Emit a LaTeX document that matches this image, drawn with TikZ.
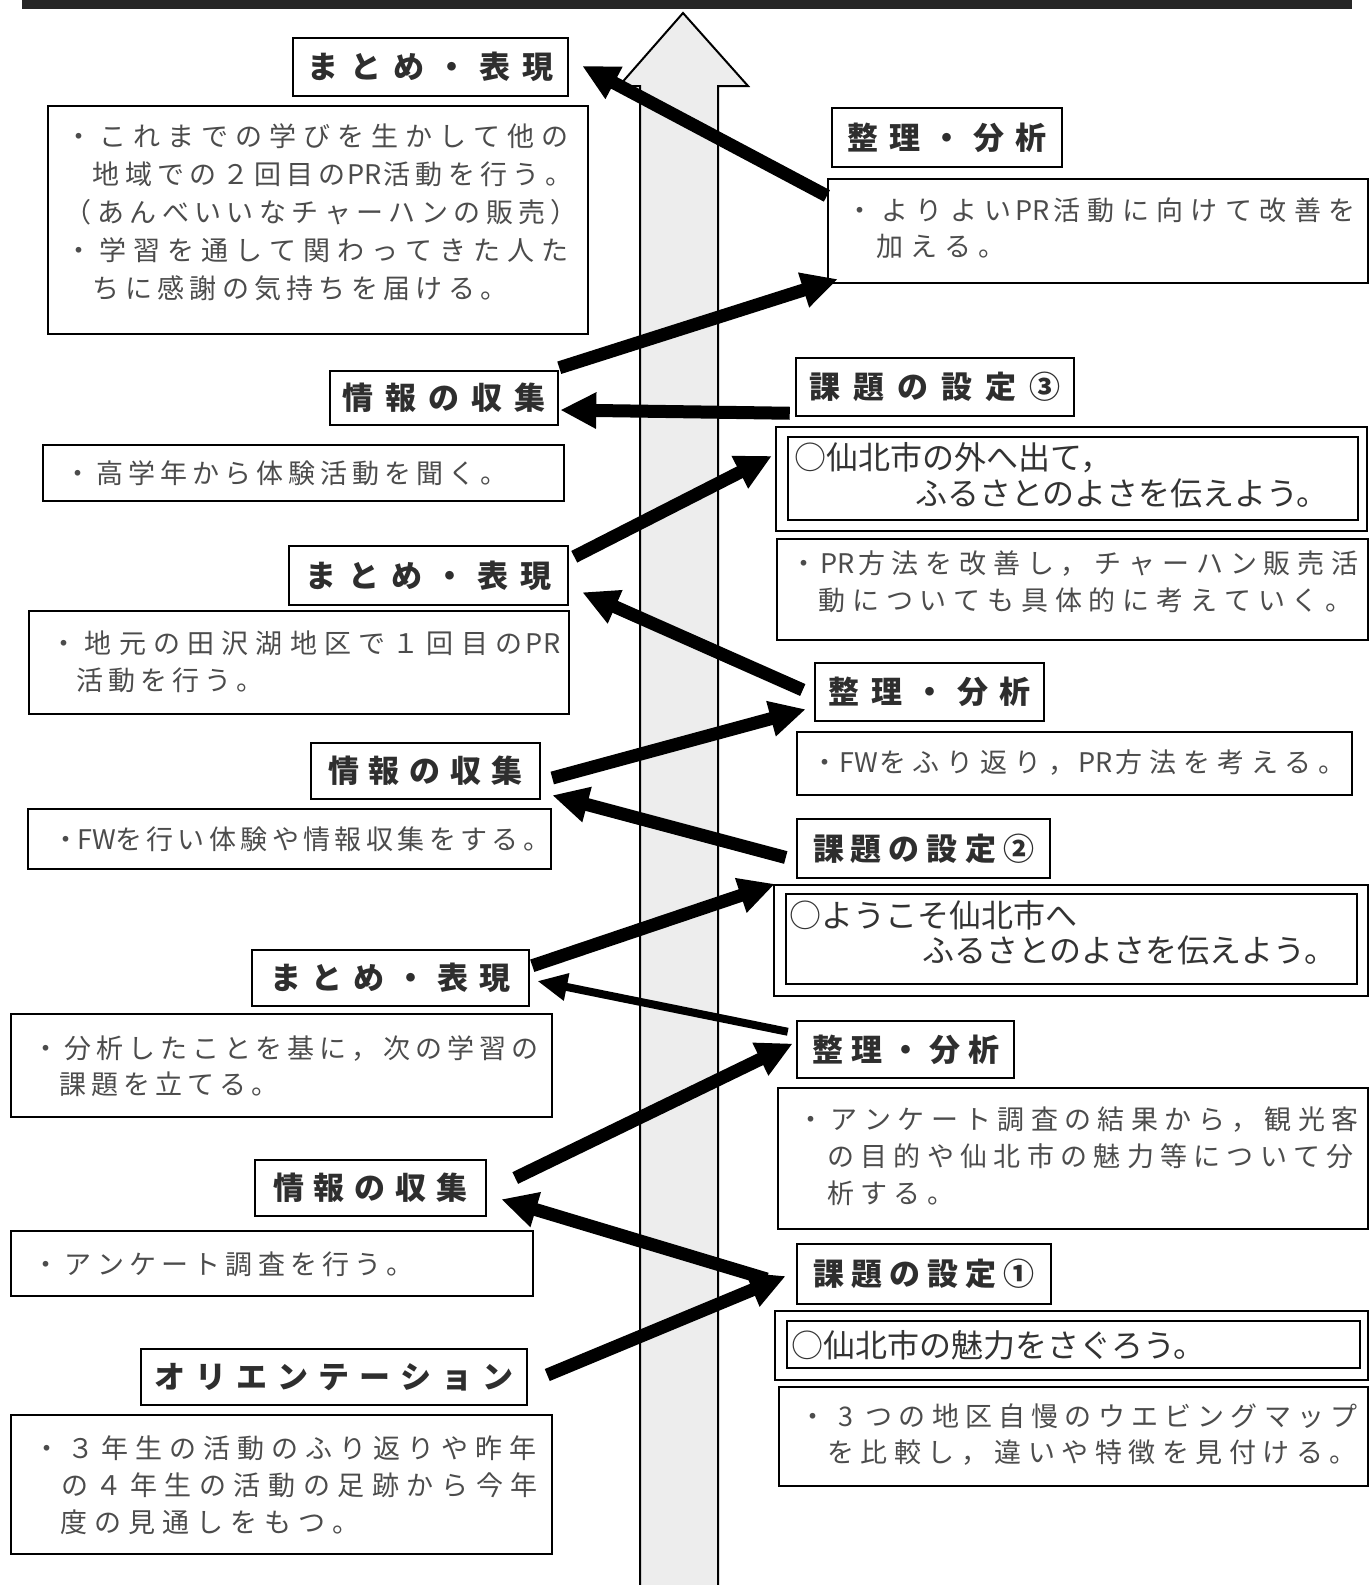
\documentclass[tikz,border=0pt]{standalone}
\usepackage{fontspec}
\usetikzlibrary{arrows.meta}
\newfontfamily\jp{Noto Sans CJK JP}
\ExplSyntaxOn
\NewDocumentCommand\jgrid{mm}{\tl_map_inline:nn{#2}{\makebox[#1][c]{##1}}}
\ExplSyntaxOff
\tikzset{
  hd/.style={draw, line width=2.5pt, fill=white, inner sep=0pt,
    font=\jp\bfseries\fontsize{31}{36}\selectfont, text=black!82},
  tb/.style={draw, line width=2.2pt, fill=white, inner sep=0pt},
  tx/.style={anchor=west, inner sep=0pt, align=left,
    font=\jp\fontsize{27}{#1}\selectfont, text=black!70},
  goaltext/.style={anchor=west, inner sep=0pt, align=left,
    font=\jp\fontsize{32}{#1}\selectfont, text=black!80},
  flow/.style={line width=13pt, -{Triangle[length=36pt,width=34pt]}, black},
  thinflow/.style={line width=8pt, -{Triangle[length=30pt,width=26pt]}, black},
}
\begin{document}
\begin{tikzpicture}[x=1pt,y=-1pt]
\useasboundingbox (0,0) rectangle (1370,1585);
% top bar
\fill[black!85] (22,0) rectangle (1352,9);
% big upward arrow
\draw[line width=2pt, fill=black!7] (640,1590) -- (640,86) -- (619,86) -- (683,13) -- (748,86) -- (718,86) -- (718,1590);

% ---------- left column ----------
\node[hd, minimum width=275, minimum height=58] (m3) at (430.5,67) {\jgrid{43pt}{まとめ・表現}};
\node[tb, minimum width=540, minimum height=228] (m3t) at (318,220) {};
\node[tx=38] (m3x) at (62,212) {\jgrid{34pt}{・これまでの学びを生かして他の}\\
  \hspace*{28pt}\jgrid{32.3pt}{地域での２回目の{PR}活動を行う。}\\
  \jgrid{32.4pt}{（あんべいいなチャーハンの販売）}\\
  \jgrid{34pt}{・学習を通して関わってきた人た}\\
  \hspace*{28pt}\jgrid{32.3pt}{ちに感謝の気持ちを届ける。}};

\node[hd, minimum width=228, minimum height=54] (j3) at (444,398) {\jgrid{43pt}{情報の収集}};
\node[tb, minimum width=521, minimum height=56] (j3t) at (303.5,473) {};
\node[tx=37] (j3x) at (62,473) {\jgrid{32pt}{・高学年から体験活動を聞く。}};

\node[hd, minimum width=279, minimum height=59] (m2) at (428.5,575.5) {\jgrid{43pt}{まとめ・表現}};
\node[tb, minimum width=540, minimum height=103] (m2t) at (299,662.5) {};
\node[tx=37] (m2x) at (47,661.5) {\jgrid{34.2pt}{・地元の田沢湖地区で１回目の{PR}}\\
  \hspace*{27pt}\jgrid{32pt}{活動を行う。}};

\node[hd, minimum width=229, minimum height=56] (j2) at (425.5,771) {\jgrid{41pt}{情報の収集}};
\node[tb, minimum width=523, minimum height=60] (j2t) at (289.5,839) {};
\node[tx=37] (j2x) at (50,839) {\jgrid{31.4pt}{・{FW}を行い体験や情報収集をする。}};

\node[hd, minimum width=277, minimum height=56] (m1) at (390.5,978) {\jgrid{42pt}{まとめ・表現}};
\node[tb, minimum width=541, minimum height=103] (m1t) at (281.5,1065.5) {};
\node[tx=36] (m1x) at (30,1066) {\jgrid{31.9pt}{・分析したことを基に，次の学習の}\\
  \hspace*{27pt}\jgrid{32pt}{課題を立てる。}};

\node[hd, minimum width=231, minimum height=56] (j1) at (370.5,1188) {\jgrid{41pt}{情報の収集}};
\node[tb, minimum width=522, minimum height=65] (j1t) at (272,1263.5) {};
\node[tx=37] (j1x) at (30,1264) {\jgrid{32.2pt}{・アンケート調査を行う。}};

\node[hd, minimum width=386, minimum height=56] (ori) at (334,1377) {\jgrid{41pt}{オリエンテーション}};
\node[tb, minimum width=541, minimum height=139] (orit) at (281.5,1484.5) {};
\node[tx=37] (orix) at (30,1485) {\jgrid{34pt}{・３年生の活動のふり返りや昨年}\\
  \hspace*{27pt}\jgrid{34.6pt}{の４年生の活動の足跡から今年}\\
  \hspace*{27pt}\jgrid{34pt}{度の見通しをもつ。}};

% ---------- right column ----------
\node[hd, minimum width=230, minimum height=59] (s3) at (947,137.5) {\jgrid{42pt}{整理・分析}};
\node[tb, minimum width=540, minimum height=104] (s3t) at (1098,231) {};
\node[tx=36] (s3x) at (843,228) {\jgrid{34.4pt}{・よりよい{PR}活動に向けて改善を}\\
  \hspace*{30pt}\jgrid{34pt}{加える。}};

\node[hd, minimum width=278, minimum height=58] (k3) at (935,387) {\jgrid{44pt}{課題の設定③}};
\node[tb, minimum width=591, minimum height=104] (k3g) at (1071.5,479) {};
\node[tb, line width=2.5pt, minimum width=570, minimum height=83] (k3gi) at (1073,478.5) {};
\node[goaltext=36] (k3x) at (794,475) {○仙北市の外へ出て，\\ \hspace*{121pt}ふるさとのよさを伝えよう。};
\node[tb, minimum width=591, minimum height=101] (k3t) at (1072.5,589.5) {};
\node[tx=37] (k3tx) at (787,581.5) {\jgrid{33.8pt}{・{PR}方法を改善し，チャーハン販売活}\\
  \hspace*{28pt}\jgrid{33.8pt}{動についても具体的に考えていく。}};

\node[hd, minimum width=229, minimum height=58] (s2) at (929.5,692) {\jgrid{43pt}{整理・分析}};
\node[tb, minimum width=555, minimum height=63] (s2t) at (1074.5,763.5) {};
\node[tx=37] (s2x) at (808,763) {\jgrid{33.8pt}{・{FW}をふり返り，{PR}方法を考える。}};

\node[hd, minimum width=253, minimum height=59] (k2) at (923.5,848.5) {\jgrid{38pt}{課題の設定②}};
\node[tb, minimum width=594, minimum height=111] (k2g) at (1071,940.5) {};
\node[tb, line width=2.5pt, minimum width=571, minimum height=90] (k2gi) at (1071.5,939) {};
\node[goaltext=35] (k2x) at (789,932.5) {○ようこそ仙北市へ\\ \hspace*{133pt}ふるさとのよさを伝えよう。};

\node[hd, minimum width=217, minimum height=57] (s1) at (905.5,1049.5) {\jgrid{39pt}{整理・分析}};
\node[tb, minimum width=590, minimum height=141] (s1t) at (1073,1158.5) {};
\node[tx=37] (s1x) at (794,1156) {\jgrid{33.4pt}{・アンケート調査の結果から，観光客}\\
  \hspace*{30pt}\jgrid{33.3pt}{の目的や仙北市の魅力等について分}\\
  \hspace*{30pt}\jgrid{33.3pt}{析する。}};

\node[hd, minimum width=254, minimum height=60] (k1) at (924,1274) {\jgrid{38pt}{課題の設定①}};
\node[tb, minimum width=593, minimum height=69] (k1g) at (1071.5,1345.5) {};
\node[tb, line width=2.5pt, minimum width=573, minimum height=47] (k1gi) at (1073.5,1344.5) {};
\node[goaltext=35] (k1x) at (791,1345) {○仙北市の魅力をさぐろう。};
\node[tb, minimum width=589, minimum height=99] (k1t) at (1073.5,1436.5) {};
\node[tx=36] (k1tx) at (796,1435) {\jgrid{33.2pt}{・3つの地区自慢のウエビングマップ}\\
  \hspace*{28pt}\jgrid{33.5pt}{を比較し，違いや特徴を見付ける。}};

% ---------- arrows ----------
\draw[flow] ([shift={(0,18)}]s3t.north west) -- ([shift={(13,-1)}]m3.east);
\draw[flow] ([shift={(0,-2)}]j3.north east) -- ([shift={(11,-5)}]s3t.south west);
\draw[flow] ([shift={(-5,-4)}]k3.south west) -- ([shift={(1,12)}]j3.east);
\draw[flow] ([shift={(5,12)}]m2.north east) -- ([shift={(-3,30)}]k3g.north west);
\draw[flow] ([shift={(-11,-2)}]s2.west) -- ([shift={(13,-14)}]m2.south east);
\draw[flow] ([shift={(11,7)}]j2.east) -- ([shift={(-8,-13)}]s2.south west);
\draw[flow] ([shift={(-10,9)}]k2.west) -- ([shift={(11,-5)}]j2.south east);
\draw[flow] ([shift={(2,17)}]m1.north east) -- ([shift={(2,0)}]k2g.north west);
\draw[thinflow] ([shift={(-8,12)}]s1.north west) -- ([shift={(7,3)}]m1.east);
\draw[flow] ([shift={(28,-10)}]j1.east) -- ([shift={(-3,-6)}]s1.west);
\draw[flow] ([shift={(-29,5)}]k1.west) -- ([shift={(14,-18)}]j1.south east);
\draw[flow] ([shift={(19,-2)}]ori.east) -- ([shift={(-10,2)}]k1.west);
\end{tikzpicture}
\end{document}
